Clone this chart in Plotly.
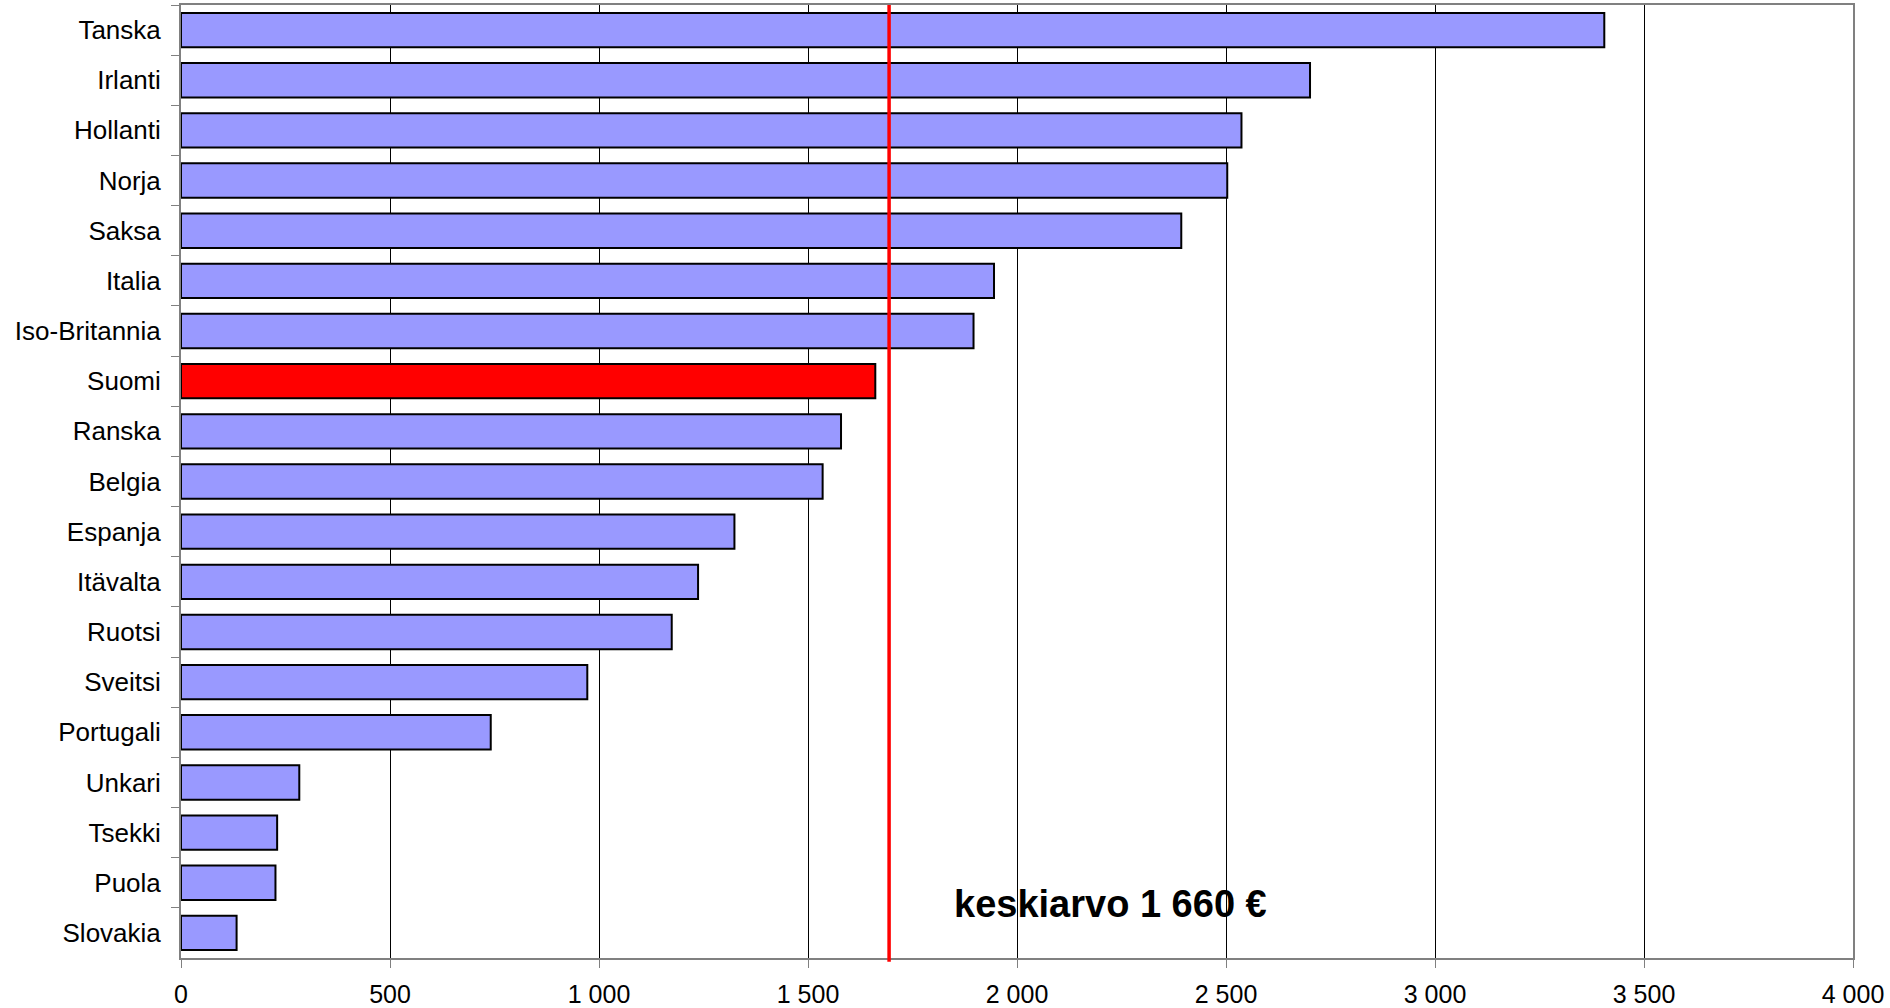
import plotly.graph_objects as go

countries = ["Tanska", "Irlanti", "Hollanti", "Norja", "Saksa", "Italia", "Iso-Britannia",
             "Suomi", "Ranska", "Belgia", "Espanja", "Itävalta", "Ruotsi", "Sveitsi",
             "Portugali", "Unkari", "Tsekki", "Puola", "Slovakia"]
values = [3405, 2701, 2537, 2503, 2393, 1945, 1896,
          1661, 1579, 1535, 1324, 1237, 1174, 972,
          741, 283, 230, 226, 133]
highlight_country = "Suomi"
average_line_value = 1694
average_label = "keskiarvo 1 660 €"
x_tick_values = [0, 500, 1000, 1500, 2000, 2500, 3000, 3500, 4000]
x_tick_labels = ["0", "500", "1 000", "1 500", "2 000", "2 500", "3 000", "3 500", "4 000"]

colors = ["#FF0000" if c == highlight_country else "#9999FF" for c in countries]

fig = go.Figure()
fig.add_trace(go.Bar(
    x=values, y=countries, orientation="h",
    marker=dict(color=colors, line=dict(color="#000000", width=2)),
    hoverinfo="x+y",
))

fig.add_shape(type="line", xref="x", yref="paper",
              x0=average_line_value, x1=average_line_value, y0=-0.004, y1=1,
              line=dict(color="#FF0000", width=3.5), layer="above")

fig.add_annotation(x=1845, xref="x", xanchor="left",
                   y=0.057, yref="paper", yanchor="middle",
                   text="<b>" + average_label + "</b>", showarrow=False,
                   font=dict(family="Liberation Sans, Arial, sans-serif", size=38, color="#000000"))

fig.update_layout(
    width=1890, height=1008,
    margin=dict(l=181, r=37, t=5, b=50, autoexpand=False),
    paper_bgcolor="#FFFFFF", plot_bgcolor="#FFFFFF",
    bargap=0.315,
    showlegend=False,
    font=dict(family="Liberation Sans, Arial, sans-serif", color="#000000"),
)
fig.update_xaxes(
    range=[0, 4000], tickvals=x_tick_values, ticktext=x_tick_labels,
    showgrid=True, gridcolor="#000000", gridwidth=1,
    showline=True, linecolor="#808080", linewidth=2, mirror=True,
    ticks="outside", ticklen=8, tickcolor="#808080", tickwidth=1,
    tickfont=dict(size=25), zeroline=False, ticklabelstandoff=5,
    automargin=False,
)
fig.update_yaxes(
    autorange="reversed", type="category",
    showgrid=False,
    showline=True, linecolor="#808080", linewidth=2, mirror=True,
    ticks="outside", ticklen=8, tickcolor="#808080", tickwidth=1,
    tickson="boundaries", ticklabelstandoff=13,
    tickfont=dict(size=26), automargin=False,
)

fig.write_html("out.html", config={"displayModeBar": False},
               post_script="document.body.style.margin='0';")
